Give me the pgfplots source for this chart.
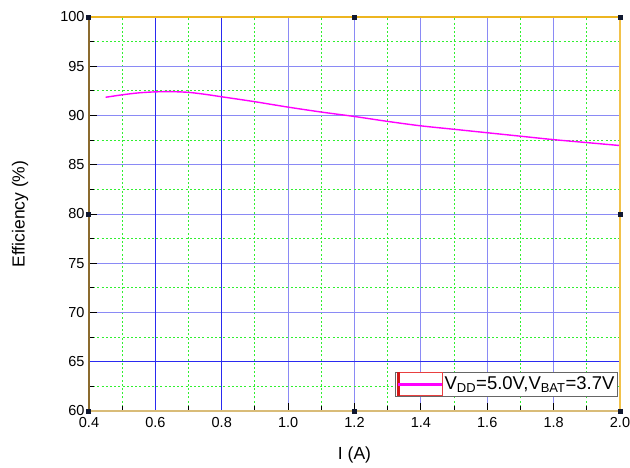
\documentclass[border=0pt]{standalone}
\usepackage{fontspec}
\setmainfont{Liberation Sans}
\usepackage{pgfplots}
\pgfplotsset{compat=1.18}

\definecolor{gridblue}{HTML}{8A8AF5}
\definecolor{strongblue}{HTML}{2A2AF0}
\definecolor{gridgreen}{HTML}{30F030}
\definecolor{curve}{HTML}{FF00FF}
\definecolor{leftbrown}{HTML}{8B6B2E}
\definecolor{topgold}{HTML}{EDB520}
\definecolor{rightgold}{HTML}{F2C24A}
\definecolor{bottomtan}{HTML}{D9BC78}
\definecolor{handle}{HTML}{101830}
\definecolor{legred}{HTML}{E84040}
\definecolor{legdark}{HTML}{D01818}

\begin{document}
\begin{tikzpicture}[x=1pt,y=1pt]
\begin{axis}[
    at={(0,0)}, anchor=south west,
    scale only axis,
    width=531pt, height=394pt,
    xmin=0.4, xmax=2.0,
    ymin=60, ymax=100,
    clip=false,
    xtick={0.4,0.6,...,2.0},
    ytick={60,65,...,100},
    xticklabels={0.4,0.6,0.8,1.0,1.2,1.4,1.6,1.8,2.0},
    minor x tick num=1,
    minor y tick num=1,
    xtick pos=bottom, ytick pos=left,
    tick align=inside,
    major tick length=8pt,
    minor tick length=5pt,
    every tick/.style={black, line width=1pt},
    grid=both,
    major grid style={gridblue, line width=0.9pt},
    minor grid style={gridgreen, line width=0.9pt, dash pattern=on 2pt off 2.2pt},
    axis line style={draw=none},
    /pgf/number format/assume math mode=true,
    ticklabel style={font=\fontsize{14.5}{16}\selectfont},
    xticklabel style={yshift=-3pt},
    yticklabel style={xshift=-1pt},
    xlabel={I (A)},
    ylabel={Efficiency (\%)},
    label style={font=\fontsize{17.5}{20}\selectfont},
    xlabel style={at={(axis description cs:0.5,0)}, anchor=center, yshift=-44pt},
    ylabel style={at={(axis description cs:0,0.5)}, anchor=center, yshift=69pt},
    legend style={at={(axis description cs:0.996,0.036)}, anchor=south east,
        draw=black!60, line width=0.9pt, fill=white,
        font=\fontsize{18.5}{20}\selectfont,
        inner xsep=1pt, inner ysep=0.5pt},
    legend cell align=left,
]
% darker major grid lines, drawn as thin filled strips
\fill[strongblue] ([xshift=-0.6pt]axis cs:0.6,60) rectangle ([xshift=0.6pt]axis cs:0.6,100);
\fill[strongblue] ([xshift=-0.6pt]axis cs:0.8,60) rectangle ([xshift=0.6pt]axis cs:0.8,100);
\fill[strongblue] ([yshift=-0.6pt]axis cs:0.4,65) rectangle ([yshift=0.6pt]axis cs:2.0,65);
\addplot[color=curve, line width=1.4pt, smooth,
    legend image code/.code={
        \fill[legred] (0pt,-11pt) rectangle (44pt,11pt);
        \fill[white] (0.8pt,-10.2pt) rectangle (43.2pt,10.2pt);
        \fill[legdark] (-0.6pt,-11pt) rectangle (0.9pt,11pt);
        \fill[curve] (0.9pt,-0.7pt) rectangle (43.2pt,0.7pt);
    }] coordinates {
(0.45,91.85) (0.5,92.1) (0.55,92.3) (0.6,92.4) (0.65,92.42) (0.7,92.35)
(0.75,92.15) (0.8,91.9) (0.9,91.4) (1.0,90.85) (1.1,90.35) (1.2,89.9)
(1.3,89.4) (1.4,88.95) (1.5,88.6) (1.6,88.25) (1.7,87.9) (1.8,87.55)
(1.9,87.25) (2.0,86.95)
};
\addlegendentry{V\textsubscript{DD}=5.0V,V\textsubscript{BAT}=3.7V}
% frame, one colour per side
\draw[color=leftbrown, line width=1.3pt] (rel axis cs:0,0) -- (rel axis cs:0,1);
\draw[color=topgold, line width=1.6pt] (rel axis cs:0,1) -- (rel axis cs:1,1);
\draw[color=rightgold, line width=1.3pt] (rel axis cs:1,1) -- (rel axis cs:1,0);
\draw[color=bottomtan, line width=1.3pt] (rel axis cs:1,0) -- (rel axis cs:0,0);
% selection handles
\fill[handle] (rel axis cs:0,1) ++(-2.5pt,-2.5pt) rectangle ++(5pt,5pt);
\fill[handle] (rel axis cs:0.5,1) ++(-2.5pt,-2.5pt) rectangle ++(5pt,5pt);
\fill[handle] (rel axis cs:1,1) ++(-2.5pt,-2.5pt) rectangle ++(5pt,5pt);
\fill[handle] (rel axis cs:1,0.5) ++(-2.5pt,-2.5pt) rectangle ++(5pt,5pt);
\fill[handle] (rel axis cs:1,0) ++(-2.5pt,-2.5pt) rectangle ++(5pt,5pt);
\fill[handle] (rel axis cs:0.5,0) ++(-2.5pt,-2.5pt) rectangle ++(5pt,5pt);
\fill[handle] (rel axis cs:0,0) ++(-2.5pt,-2.5pt) rectangle ++(5pt,5pt);
\fill[handle] (rel axis cs:0,0.5) ++(-2.5pt,-2.5pt) rectangle ++(5pt,5pt);
\end{axis}
\pgfresetboundingbox
\path (-89pt,-56pt) rectangle (541pt,411pt);
\end{tikzpicture}
\end{document}
